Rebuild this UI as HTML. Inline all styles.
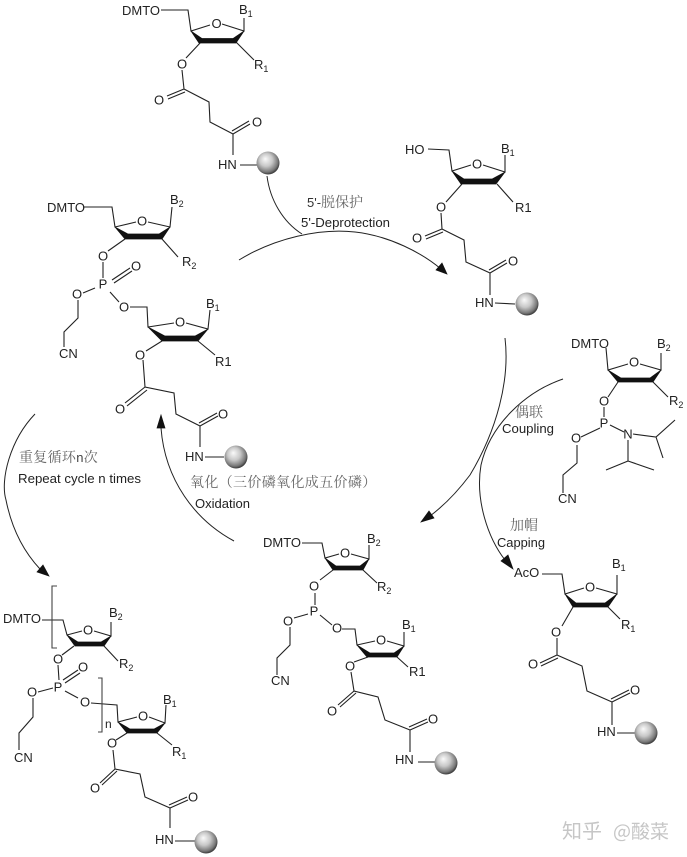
<!DOCTYPE html>
<html lang="zh">
<head>
<meta charset="utf-8">
<title>Oligonucleotide synthesis cycle</title>
<style>
html,body{margin:0;padding:0;background:#fff;width:687px;height:857px;overflow:hidden}
svg{display:block}
.b{fill:none;stroke:#222;stroke-width:1.1;stroke-linejoin:miter}
.a{fill:none;stroke:#222;stroke-width:1}
.r{fill:#111;stroke:#111;stroke-width:.7}
text{font-family:"Liberation Sans",sans-serif;font-size:13px;fill:#222}
.c{text-anchor:middle}
.s{font-size:9px}
.z{font-family:"Noto Serif CJK SC","Liberation Serif",serif;font-size:14px;fill:#666}
.l{font-size:12.5px;fill:#222}
.w{font-family:"Noto Sans CJK SC","Liberation Sans",sans-serif;font-size:20px;fill:#c6c6c6}
</style>
</head>
<body>
<svg width="687" height="857" viewBox="0 0 687 857" xmlns="http://www.w3.org/2000/svg">
<defs>
<radialGradient id="g" cx=".45" cy=".42" r=".62" fx=".38" fy=".32">
<stop offset="0" stop-color="#fafafa"/>
<stop offset=".45" stop-color="#c8c8c8"/>
<stop offset=".8" stop-color="#777"/>
<stop offset="1" stop-color="#222"/>
</radialGradient>
</defs>

<!-- Arrows -->
<path class="a" d="M239 260C275 238 320 228 355 232C390 236 422 253 441 269"/>
<polygon class="r" points="447,274 436,270 442,263"/>
<path class="a" d="M267 176C270 200 283 222 302 234"/>
<path class="a" d="M505 338C510 380 497 430 470 475C455 495 442 507 430 516"/>
<polygon class="r" points="421,522 429,511 434,518"/>
<path class="a" d="M563 379C525 392 490 425 481 465C475 500 488 538 505 560"/>
<polygon class="r" points="513,569 501,561 508,555"/>
<path class="a" d="M234 541C195 520 165 480 161 428"/>
<polygon class="r" points="161,415 165,428 157,428"/>
<path class="a" d="M35 414C10 440 0 480 6 500C12 530 25 553 40 569"/>
<polygon class="r" points="49,576 37,572 43,565"/>

<!-- Structure 1: top -->
<text x="122" y="15">DMTO</text>
<path class="b" d="M161 10H188L191 31L210 25M222 24L244 31V18M236 42L254 60M201 42L186 58M182 70L184 89L209 102L210 122L233 134V155M240 165H258M184 89L167 96M185 92L168 99M233 134L250 124M232 131L249 121"/>
<polygon class="r" points="191,31 199,43 236,43 244,31 233,38.5 202,38.5"/>
<text class="c" x="216.500" y="28">O</text>
<text x="239" y="14">B<tspan class="s" dy="3">1</tspan></text>
<text x="254" y="69">R<tspan class="s" dy="3">1</tspan></text>
<text class="c" x="182" y="68.500">O</text>
<text class="c" x="159" y="104.500">O</text>
<text class="c" x="257" y="126.500">O</text>
<text x="218" y="169">HN</text>
<circle cx="268" cy="163" r="11.500" fill="url(#g)"/>

<!-- Structure 2: right, 5'-OH -->
<text x="405" y="154">HO</text>
<path class="b" d="M428 149L449 150L452 171L471 165M483 165L505 172V155M497 184L513 202M462 184L446 202M441 213L442 229L464 240L466 262L490 273V295M495 303L515 304M442 229L425 236M443 232L426 239M490 273L507 263M489 270L506 260"/>
<polygon class="r" points="452,171 461,184 496,184 505,172 492,179 464,179"/>
<text class="c" x="477" y="168.500">O</text>
<text x="501" y="153">B<tspan class="s" dy="3">1</tspan></text>
<text x="515" y="212">R1</text>
<text class="c" x="441" y="211.500">O</text>
<text class="c" x="417" y="242.500">O</text>
<text class="c" x="513" y="265.500">O</text>
<text x="475" y="307">HN</text>
<circle cx="527" cy="304" r="11.500" fill="url(#g)"/>

<!-- Structure 3: left dimer -->
<text x="47" y="212">DMTO</text>
<path class="b" d="M83 207H112L115 227L136 222M148 222L170 227L172 207M162 239L178 257M125 239L108 251M103 262L103 278M112 280L130 268M114 283L132 271M95 288L83 293M78 300V318L64 332V347M110 292L119 302M130 307H147L148 327L174 323M186 323L208 329L210 310M198 341L215 355M162 341L146 351M143 360L145 387L174 393L176 414L200 426V447M205 457H224M145 387L125 403M147 390L127 406M200 426L218 416M199 423L217 413"/>
<polygon class="r" points="115,227 125,239 162,239 170,227 159,234 128,234"/>
<polygon class="r" points="148,327 162,341 198,341 208,329 195,336 165,336"/>
<text class="c" x="142" y="225.500">O</text>
<text x="170" y="204">B<tspan class="s" dy="3">2</tspan></text>
<text x="182" y="266">R<tspan class="s" dy="3">2</tspan></text>
<text class="c" x="103" y="260.500">O</text>
<text class="c" x="103" y="288.500">P</text>
<text class="c" x="136" y="270.500">O</text>
<text class="c" x="77" y="298.500">O</text>
<text x="59" y="358">CN</text>
<text class="c" x="124" y="311.500">O</text>
<text class="c" x="180" y="326.500">O</text>
<text x="206" y="308">B<tspan class="s" dy="3">1</tspan></text>
<text x="215" y="366">R1</text>
<text class="c" x="140" y="359.500">O</text>
<text class="c" x="120" y="413.500">O</text>
<text class="c" x="223" y="418.500">O</text>
<text x="185" y="461">HN</text>
<circle cx="236" cy="457" r="11.500" fill="url(#g)"/>

<!-- Structure 4: bottom left -->
<text x="3" y="623">DMTO</text>
<path class="b" d="M42 620H63L67 635L82 631M94 631L111 636V622M104 646L118 661M74 646L62 655M58 665L59 680M63 680L78 670M65 683L80 673M53 688L38 692M33 698V717L19 733V750M65 691L78 698M91 703L117 705L118 722L137 717M149 717L165 723L166 705M157 733L172 745M127 733L116 740M113 750L115 769L140 774L145 797L170 808V828M175 841H195M115 769L100 783M117 771L102 785M170 808L188 800M169 805L187 797"/>
<path class="b" style="stroke:#444" d="M57 586H52V648H57M98 678H102V732H98"/>
<polygon class="r" points="67,635 75,646 104,646 111,636 101,642 78,642"/>
<polygon class="r" points="118,722 127,733 157,733 165,723 154,729 130,729"/>
<text class="c" x="88" y="634.500">O</text>
<text x="109" y="617">B<tspan class="s" dy="3">2</tspan></text>
<text x="119" y="668">R<tspan class="s" dy="3">2</tspan></text>
<text class="c" x="58" y="663.500">O</text>
<text class="c" x="58" y="691.500">P</text>
<text class="c" x="83" y="671.500">O</text>
<text class="c" x="32" y="696.500">O</text>
<text x="14" y="762">CN</text>
<text class="c" x="85" y="706.500">O</text>
<text x="105" y="728" style="font-size:12px">n</text>
<text class="c" x="143" y="720.500">O</text>
<text x="163" y="704">B<tspan class="s" dy="3">1</tspan></text>
<text x="172" y="756">R<tspan class="s" dy="3">1</tspan></text>
<text class="c" x="112" y="747.500">O</text>
<text class="c" x="95" y="792.500">O</text>
<text class="c" x="193" y="801.500">O</text>
<text x="155" y="844">HN</text>
<circle cx="206" cy="842" r="11.500" fill="url(#g)"/>

<!-- Structure 5: bottom centre -->
<text x="263" y="547">DMTO</text>
<path class="b" d="M302 543H322L325 558L339 554M351 554L369 559V545M363 570L377 583M333 570L320 580M315 593V605M308 614L294 618M290 627V645L277 658V675M320 615L332 625M342 629H355L357 645L375 641M387 641L404 646V632M397 657L408 667M368 657L354 662M351 672L354 691L378 697L385 720L410 730V752M418 762H435M354 691L338 705M356 693L340 707M410 730L428 722M409 727L427 719"/>
<polygon class="r" points="325,558 333,570 363,570 369,559 360,566 336,566"/>
<polygon class="r" points="357,645 367,657 397,657 404,646 394,653 370,653"/>
<text class="c" x="345" y="557.500">O</text>
<text x="367" y="543">B<tspan class="s" dy="3">2</tspan></text>
<text x="377" y="591">R<tspan class="s" dy="3">2</tspan></text>
<text class="c" x="314" y="590.500">O</text>
<text class="c" x="314" y="615.500">P</text>
<text class="c" x="288" y="625.500">O</text>
<text x="271" y="685">CN</text>
<text class="c" x="337" y="632.500">O</text>
<text class="c" x="381" y="644.500">O</text>
<text x="402" y="629">B<tspan class="s" dy="3">1</tspan></text>
<text x="409" y="676">R1</text>
<text class="c" x="350" y="670.500">O</text>
<text class="c" x="332" y="715.500">O</text>
<text class="c" x="433" y="723.500">O</text>
<text x="395" y="764">HN</text>
<circle cx="446" cy="763" r="11.500" fill="url(#g)"/>

<!-- Structure 6: right, capped -->
<text x="514" y="577">AcO</text>
<path class="b" d="M542 574H562L565 594L584 588M596 588L617 594V575M608 607L620 619M573 607L562 626M557 638V655L582 666L587 691L612 702V725M617 733H635M557 655L540 663M558 658L541 666M612 702L630 693M611 699L629 690"/>
<polygon class="r" points="565,594 573,607 608,607 617,594 605,603 576,603"/>
<text class="c" x="590" y="591.500">O</text>
<text x="612" y="568">B<tspan class="s" dy="3">1</tspan></text>
<text x="621" y="629">R<tspan class="s" dy="3">1</tspan></text>
<text class="c" x="556" y="636.500">O</text>
<text class="c" x="533" y="668.500">O</text>
<text class="c" x="635" y="694.500">O</text>
<text x="597" y="736">HN</text>
<circle cx="646" cy="733" r="11.500" fill="url(#g)"/>

<!-- Structure 7: phosphoramidite -->
<text x="571" y="348">DMTO</text>
<path class="b" d="M606 348L608 370L628 364M640 364L661 370V353M653 382L668 397M618 382L608 397M604 407V417M600 428L581 437M577 445V463L563 475V493M610 425L624 432M633 434L656 437L675 420M656 437L663 458M628 440V461L606 470M628 461L654 470"/>
<polygon class="r" points="608,370 618,382 653,382 661,370 650,378 621,378"/>
<text class="c" x="634" y="366.500">O</text>
<text x="657" y="348">B<tspan class="s" dy="3">2</tspan></text>
<text x="669" y="405">R<tspan class="s" dy="3">2</tspan></text>
<text class="c" x="604" y="405.500">O</text>
<text class="c" x="604" y="427.500">P</text>
<text class="c" x="576" y="442.500">O</text>
<text class="c" x="628" y="438.500">N</text>
<text x="558" y="503">CN</text>

<!-- Labels -->
<text class="z" x="307" y="207"><tspan style="font-family:'Liberation Sans',sans-serif;font-size:13px;fill:#333">5'-</tspan>脱保护</text>
<text class="l" x="301" y="227" textLength="89" lengthAdjust="spacingAndGlyphs">5'-Deprotection</text>
<text class="z" x="515" y="417">偶联</text>
<text class="l" x="502" y="433" textLength="52" lengthAdjust="spacingAndGlyphs">Coupling</text>
<text class="z" x="510" y="530">加帽</text>
<text class="l" x="497" y="547" textLength="48" lengthAdjust="spacingAndGlyphs">Capping</text>
<text class="z" x="190" y="487" style="letter-spacing:.35px">氧化（三价磷氧化成五价磷）</text>
<text class="l" x="195" y="508" textLength="55" lengthAdjust="spacingAndGlyphs">Oxidation</text>
<text class="z" x="19" y="462" style="letter-spacing:.3px">重复循环<tspan style="font-family:'Liberation Sans',sans-serif;font-size:13px;fill:#444">n</tspan>次</text>
<text class="l" x="18" y="483" textLength="123" lengthAdjust="spacingAndGlyphs">Repeat cycle n times</text>

<!-- Watermark -->
<text class="w" x="562" y="838">知乎</text>
<text class="w" x="613" y="838" style="font-size:19px">@酸菜</text>
</svg>
</body>
</html>
